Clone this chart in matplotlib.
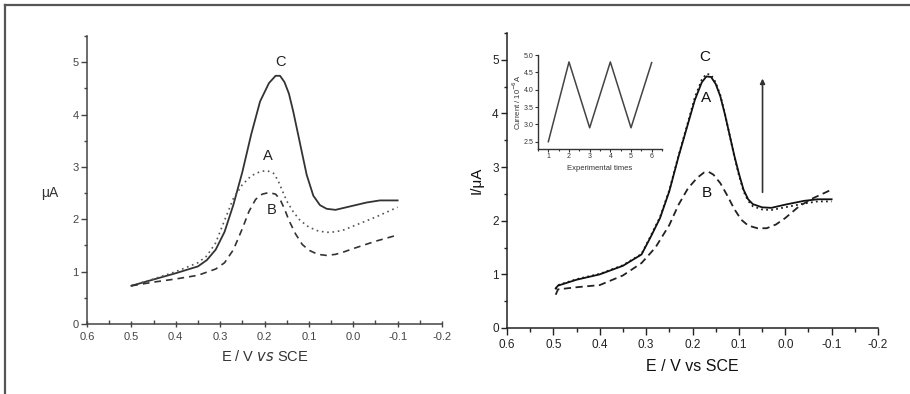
import matplotlib
matplotlib.use("Agg")
import matplotlib.pyplot as plt
from matplotlib.lines import Line2D
from matplotlib.ticker import MultipleLocator, FixedLocator

plt.rcParams['axes.unicode_minus'] = False
plt.rcParams['font.family'] = ['Liberation Sans', 'DejaVu Sans']

# ---------------- data: left panel ----------------
left_C_E = [0.50, 0.45, 0.40, 0.35, 0.33, 0.31, 0.29, 0.27, 0.25, 0.23, 0.21, 0.19, 0.175, 0.165,
            0.155, 0.145, 0.135, 0.12, 0.105, 0.09, 0.075, 0.06, 0.04, 0.02, 0.0, -0.03, -0.06, -0.10]
left_C_I = [0.73, 0.85, 0.97, 1.10, 1.22, 1.42, 1.76, 2.28, 2.90, 3.62, 4.25, 4.60, 4.74, 4.74,
            4.62, 4.40, 4.05, 3.45, 2.85, 2.45, 2.27, 2.20, 2.18, 2.22, 2.26, 2.32, 2.36, 2.36]
left_A_E = [0.50, 0.45, 0.40, 0.35, 0.33, 0.31, 0.29, 0.27, 0.25, 0.23, 0.21, 0.195, 0.18, 0.17,
            0.16, 0.15, 0.135, 0.12, 0.10, 0.08, 0.06, 0.04, 0.02, 0.0, -0.05, -0.10]
left_A_I = [0.73, 0.86, 1.00, 1.17, 1.30, 1.55, 1.98, 2.40, 2.66, 2.83, 2.91, 2.93, 2.88, 2.75,
            2.55, 2.35, 2.14, 1.98, 1.85, 1.78, 1.75, 1.76, 1.80, 1.87, 2.04, 2.23]
left_B_E = [0.50, 0.45, 0.40, 0.35, 0.31, 0.29, 0.27, 0.25, 0.235, 0.22, 0.205, 0.19, 0.175, 0.165,
            0.155, 0.145, 0.13, 0.115, 0.10, 0.08, 0.06, 0.04, 0.02, 0.0, -0.05, -0.10]
left_B_I = [0.73, 0.80, 0.86, 0.93, 1.05, 1.17, 1.42, 1.82, 2.15, 2.38, 2.48, 2.51, 2.48, 2.38,
            2.20, 1.98, 1.72, 1.52, 1.41, 1.33, 1.31, 1.33, 1.38, 1.44, 1.58, 1.70]

# ---------------- data: right panel ----------------
right_C_E = [0.495, 0.49, 0.45, 0.40, 0.35, 0.31, 0.29, 0.27, 0.25, 0.23, 0.21, 0.195, 0.18, 0.17,
             0.16, 0.15, 0.14, 0.13, 0.12, 0.11, 0.10, 0.09, 0.08, 0.07, 0.05, 0.03, 0.0, -0.04,
             -0.07, -0.10]
right_C_I = [0.74, 0.79, 0.90, 1.00, 1.16, 1.37, 1.70, 2.05, 2.55, 3.20, 3.80, 4.25, 4.58, 4.69,
             4.68, 4.55, 4.32, 3.98, 3.60, 3.22, 2.88, 2.58, 2.40, 2.31, 2.25, 2.24, 2.30, 2.37,
             2.40, 2.40]
right_A_E = [0.495, 0.49, 0.45, 0.40, 0.35, 0.31, 0.29, 0.27, 0.25, 0.23, 0.21, 0.195, 0.18, 0.17,
             0.16, 0.15, 0.14, 0.13, 0.12, 0.11, 0.10, 0.09, 0.08, 0.07, 0.05, 0.03, 0.0, -0.04,
             -0.07, -0.10]
right_A_I = [0.72, 0.80, 0.91, 1.01, 1.17, 1.38, 1.72, 2.07, 2.57, 3.22, 3.83, 4.30, 4.63, 4.74,
             4.72, 4.58, 4.34, 3.99, 3.60, 3.20, 2.85, 2.55, 2.37, 2.27, 2.21, 2.20, 2.25, 2.32,
             2.36, 2.36]
right_B_E = [0.495, 0.49, 0.45, 0.40, 0.35, 0.31, 0.28, 0.25, 0.23, 0.21, 0.19, 0.175, 0.165,
             0.155, 0.14, 0.125, 0.11, 0.095, 0.08, 0.06, 0.04, 0.02, 0.0, -0.03, -0.06, -0.10]
right_B_I = [0.62, 0.72, 0.76, 0.80, 0.98, 1.21, 1.50, 1.92, 2.30, 2.60, 2.80, 2.90, 2.91,
             2.86, 2.70, 2.47, 2.22, 2.02, 1.91, 1.86, 1.86, 1.93, 2.05, 2.27, 2.42, 2.58]

# ---------------- data: inset ----------------
inset_times = [1, 2, 3, 4, 5, 6]
inset_current = [2.5, 4.8, 2.9, 4.8, 2.9, 4.78]

x_ticks = [0.6, 0.5, 0.4, 0.3, 0.2, 0.1, 0.0, -0.1, -0.2]
x_ticklabels = ["0.6", "0.5", "0.4", "0.3", "0.2", "0.1", "0.0", "-0.1", "-0.2"]
y_ticks = [0, 1, 2, 3, 4, 5]

fig = plt.figure(figsize=(9.1, 3.94), dpi=100)
fig.patch.set_facecolor('white')

# outer frame (left and top edges visible)
fig.add_artist(Line2D([5/910, 5/910], [0, 1 - 5/394], transform=fig.transFigure,
                      color='#555555', lw=1.6))
fig.add_artist(Line2D([5/910, 1], [1 - 5/394, 1 - 5/394], transform=fig.transFigure,
                      color='#555555', lw=1.6))


def style_axes(ax, tick_color, label_size, major_dir, minor_dir):
    for s in ['top', 'right']:
        ax.spines[s].set_visible(False)
    for s in ['left', 'bottom']:
        ax.spines[s].set_linewidth(1.1)
        ax.spines[s].set_color(tick_color)
    ax.set_xlim(0.6, -0.2)
    ax.set_ylim(0, 5.5)
    ax.xaxis.set_major_locator(FixedLocator(x_ticks))
    ax.set_xticklabels(x_ticklabels)
    ax.xaxis.set_minor_locator(MultipleLocator(0.05))
    ax.yaxis.set_major_locator(FixedLocator(y_ticks))
    ax.yaxis.set_minor_locator(MultipleLocator(0.5))
    ax.tick_params(axis='x', which='major', direction=major_dir, length=5, width=1,
                   color=tick_color, labelsize=label_size, labelcolor=tick_color, pad=3)
    ax.tick_params(axis='x', which='minor', direction=minor_dir, length=3, width=1,
                   color=tick_color)
    ax.tick_params(axis='y', which='major', direction='out', length=4, width=1,
                   color=tick_color, labelsize=label_size, labelcolor=tick_color, pad=2)
    ax.tick_params(axis='y', which='minor', direction='out', length=2.5, width=1,
                   color=tick_color)


# ---------------- left panel ----------------
ax1 = fig.add_axes([87/910, 1 - 324/394, 355/910, 288/394])
style_axes(ax1, '#444444', 8, 'inout', 'in')
ax1.plot(left_C_E, left_C_I, color='#333333', lw=1.3, ls='-')
ax1.plot(left_A_E, left_A_I, color='#555555', lw=1.2, ls=(0, (1, 2.2)))
ax1.plot(left_B_E, left_B_I, color='#333333', lw=1.2, ls=(0, (4, 3)))
ax1.text(0.165, 5.0, "C", fontsize=10.5, ha='center', va='center', color='#222222')
ax1.text(0.192, 3.2, "A", fontsize=10.5, ha='center', va='center', color='#222222')
ax1.text(0.184, 2.18, "B", fontsize=10.5, ha='center', va='center', color='#222222')
ax1.set_xlabel("E / V $\\it{vs}$ SCE", fontsize=10.5, color='#333333', labelpad=5)
fig.text(50/910, 1 - 193/394, "μA", fontsize=10, ha='center', va='center', color='#333333')

# ---------------- right panel ----------------
ax2 = fig.add_axes([507/910, 1 - 328/394, 371/910, 295/394])
style_axes(ax2, '#222222', 8.5, 'out', 'out')
ax2.plot(right_A_E, right_A_I, color='#222222', lw=1.3, ls=(0, (1, 1.8)))
ax2.plot(right_C_E, right_C_I, color='#111111', lw=1.3, ls='-')
ax2.plot(right_B_E, right_B_I, color='#222222', lw=1.3, ls=(0, (4, 2.5)))
ax2.text(0.174, 5.06, "C", fontsize=11, ha='center', va='center', color='#111111')
ax2.text(0.170, 4.28, "A", fontsize=11, ha='center', va='center', color='#111111')
ax2.text(0.170, 2.52, "B", fontsize=11, ha='center', va='center', color='#111111')
ax2.annotate("", xy=(0.049, 4.65), xytext=(0.049, 2.53),
             arrowprops=dict(arrowstyle='-|>', color='#333333', lw=1.2,
                             mutation_scale=7, shrinkA=0, shrinkB=0))
ax2.set_xlabel("E / V vs SCE", fontsize=11.5, color='#111111', labelpad=6)
ax2.set_ylabel("I/μA", fontsize=11, color='#111111', labelpad=6)

# ---------------- inset ----------------
ax3 = fig.add_axes([538/910, 1 - 149.3/394, 124/910, 94.3/394])
for s in ['top', 'right']:
    ax3.spines[s].set_visible(False)
for s in ['left', 'bottom']:
    ax3.spines[s].set_linewidth(1.0)
    ax3.spines[s].set_color('#333333')
ax3.plot(inset_times, inset_current, color='#444444', lw=1.1)
ax3.set_xlim(0.5, 6.5)
ax3.set_ylim(2.28, 5.0)
ax3.set_xticks(inset_times)
ax3.set_yticks([2.5, 3.0, 3.5, 4.0, 4.5, 5.0])
ax3.set_yticklabels(["2.5", "3.0", "3.5", "4.0", "4.5", "5.0"])
ax3.xaxis.set_minor_locator(MultipleLocator(0.5))
ax3.tick_params(axis='both', which='major', direction='out', length=2, width=0.8,
                labelsize=5, color='#333333', labelcolor='#333333', pad=1)
ax3.tick_params(axis='x', which='minor', direction='out', length=1.5, width=0.8,
                color='#333333')
ax3.set_xlabel("Experimental times", fontsize=5.5, color='#333333', labelpad=3)
ax3.set_ylabel("Current / 10$^{-6}$A", fontsize=5.5, color='#333333', labelpad=1)
ax3.patch.set_alpha(0)

fig.savefig("out.png", dpi=100, facecolor='white')
